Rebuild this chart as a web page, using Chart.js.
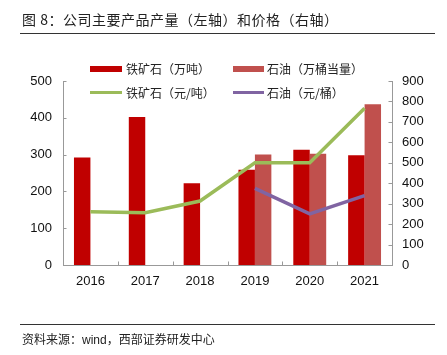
<!DOCTYPE html>
<html><head><meta charset="utf-8">
<script src="https://cdn.jsdelivr.net/npm/chart.js@4"></script>
<style>
html,body{margin:0;padding:0;background:#fff;}
#wrap{position:relative;width:447px;height:355px;overflow:hidden;font-family:"Noto Sans CJK SC","Noto Sans",sans-serif;}
canvas{position:absolute;left:0;top:0;}
.t{position:absolute;white-space:nowrap;color:#222;}
.rule{position:absolute;left:20px;width:415px;height:1px;background:#333;}
.sw{position:absolute;}
.lg{position:absolute;font-size:12px;color:#222;line-height:14px;white-space:nowrap;}
</style></head><body>
<div id="wrap">
<canvas id="c" width="447" height="355"></canvas>
<div class="t" style="left:22px;top:10px;font-size:14px;line-height:18px;letter-spacing:0.5px;">图 8：公司主要产品产量（左轴）和价格（右轴）</div>
<div class="rule" style="top:33px;"></div>
<div class="sw" style="left:90px;top:66px;width:32px;height:6px;background:#C00000;"></div>
<div class="lg" style="left:126px;top:62px;">铁矿石（万吨）</div>
<div class="sw" style="left:233px;top:66px;width:31px;height:6px;background:#C0504D;"></div>
<div class="lg" style="left:267px;top:62px;">石油（万桶当量）</div>
<div class="sw" style="left:90px;top:91px;width:32px;height:3px;background:#9BBB59;"></div>
<div class="lg" style="left:126px;top:86px;">铁矿石（元/吨）</div>
<div class="sw" style="left:233px;top:91px;width:31px;height:3px;background:#8064A2;"></div>
<div class="lg" style="left:267px;top:86px;">石油（元/桶）</div>
<div class="rule" style="top:324px;"></div>
<div class="t" style="left:22px;top:331px;font-size:12px;line-height:15px;">资料来源：<span style="font-family:'Liberation Sans',Arial,sans-serif;">wind</span>，西部证券研发中心</div>
</div>
<script>
const categories = ['2016','2017','2018','2019','2020','2021'];
const ironOreOutput = [292, 402, 222, 259, 313, 298];
const oilOutput = [null, null, null, 300, 302, 437];
const ironOrePrice = [261, 256, 313, 500, 500, 767];
const oilPrice = [null, null, null, 375, 250, 339];
const leftTicks = [0, 100, 200, 300, 400, 500];
const rightTicks = [0, 100, 200, 300, 400, 500, 600, 700, 800, 900];

const axisColor = '#999';
const tickFont = {family: "'Liberation Sans', Arial, sans-serif", size: 13};

const innerTicks = {
  id: 'innerTicks',
  afterDatasetsDraw(chart) {
    const ctx = chart.ctx, a = chart.chartArea;
    ctx.save();
    ctx.strokeStyle = axisColor; ctx.lineWidth = 1;
    ctx.beginPath();
    const y = chart.scales.y, y1 = chart.scales.y1, x = chart.scales.x;
    y.ticks.forEach((t, i) => { const p = Math.round(y.getPixelForTick(i)) + 0.5; ctx.moveTo(a.left, p); ctx.lineTo(a.left + 3.5, p); });
    y1.ticks.forEach((t, i) => { const p = Math.round(y1.getPixelForTick(i)) + 0.5; ctx.moveTo(a.right, p); ctx.lineTo(a.right - 3.5, p); });
    for (let i = 0; i <= categories.length; i++) {
      const p = Math.round(x.left + (x.right - x.left) * i / categories.length) + 0.5;
      ctx.moveTo(p, a.bottom); ctx.lineTo(p, a.bottom - 3.5);
    }
    ctx.stroke();
    ctx.restore();
  }
};

new Chart(document.getElementById('c'), {
  data: {
    labels: categories,
    datasets: [
      {type: 'line', label: '铁矿石（元/吨）', data: ironOrePrice, yAxisID: 'y1', borderColor: '#9BBB59', backgroundColor: '#9BBB59', borderWidth: 3.5, pointRadius: 0, tension: 0, order: 0},
      {type: 'line', label: '石油（元/桶）', data: oilPrice, yAxisID: 'y1', borderColor: '#8064A2', backgroundColor: '#8064A2', borderWidth: 3.5, pointRadius: 0, tension: 0, order: 0},
      {type: 'bar', label: '铁矿石（万吨）', data: ironOreOutput, yAxisID: 'y', backgroundColor: '#C00000', order: 1, categoryPercentage: 0.6, barPercentage: 1.0},
      {type: 'bar', label: '石油（万桶当量）', data: oilOutput, yAxisID: 'y', backgroundColor: '#C0504D', order: 1, categoryPercentage: 0.6, barPercentage: 1.0}
    ]
  },
  options: {
    responsive: false, animation: false,
    layout: {padding: {top: 81, left: 0, right: 0, bottom: 0}},
    plugins: {legend: {display: false}, tooltip: {enabled: false}},
    scales: {
      x: {
        grid: {display: false, drawTicks: false},
        border: {color: axisColor},
        ticks: {color: '#111', font: tickFont, padding: 9, maxRotation: 0},
        afterFit(s) { s.height = 90; }
      },
      y: {
        position: 'left', min: 0, max: 500,
        afterBuildTicks(s) { s.ticks = leftTicks.map(v => ({value: v})); },
        grid: {display: false, drawTicks: false},
        border: {color: axisColor},
        ticks: {color: '#111', font: tickFont, padding: 11},
        afterFit(s) { s.width = 63; }
      },
      y1: {
        position: 'right', min: 0, max: 900,
        afterBuildTicks(s) { s.ticks = rightTicks.map(v => ({value: v})); },
        grid: {display: false, drawTicks: false},
        border: {color: axisColor},
        ticks: {color: '#111', font: tickFont, padding: 10},
        afterFit(s) { s.width = 55; }
      }
    }
  },
  plugins: [innerTicks]
});
</script>
</body></html>
